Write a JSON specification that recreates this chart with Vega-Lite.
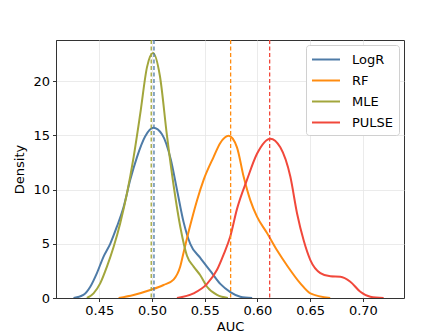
{
  "$schema": "https://vega.github.io/schema/vega-lite/v6.json",
  "width": 348,
  "height": 258,
  "autosize": {"type": "none"},
  "padding": {"left": 56, "top": 40, "right": 44, "bottom": 38},
  "background": "white",
  "config": {
    "font": "DejaVu Sans",
    "view": {"stroke": "#333333", "strokeWidth": 1},
    "axis": {
      "labelFont": "DejaVu Sans",
      "titleFont": "DejaVu Sans",
      "labelFontSize": 13,
      "titleFontSize": 13,
      "titleFontWeight": "normal",
      "labelColor": "black",
      "titleColor": "black",
      "domainColor": "#333333",
      "tickColor": "#333333",
      "tickSize": 3.5,
      "gridColor": "#e6e6e6",
      "gridWidth": 0.8
    },
    "legend": {
      "labelFont": "DejaVu Sans",
      "labelFontSize": 13,
      "labelColor": "black"
    }
  },
  "datasets": {
    "curves": [
      {"m": "LogR", "x": 0.4256, "d": 0},
      {"m": "LogR", "x": 0.435, "d": 0.28},
      {"m": "LogR", "x": 0.4415, "d": 1.04},
      {"m": "LogR", "x": 0.4478, "d": 2.3},
      {"m": "LogR", "x": 0.454, "d": 3.8},
      {"m": "LogR", "x": 0.4604, "d": 5.0},
      {"m": "LogR", "x": 0.4668, "d": 6.6},
      {"m": "LogR", "x": 0.4731, "d": 8.4},
      {"m": "LogR", "x": 0.4794, "d": 10.9},
      {"m": "LogR", "x": 0.4858, "d": 13.0},
      {"m": "LogR", "x": 0.4935, "d": 14.9},
      {"m": "LogR", "x": 0.5015, "d": 15.7},
      {"m": "LogR", "x": 0.5095, "d": 15.1},
      {"m": "LogR", "x": 0.5178, "d": 12.8},
      {"m": "LogR", "x": 0.5237, "d": 10.0},
      {"m": "LogR", "x": 0.53, "d": 7.0},
      {"m": "LogR", "x": 0.5363, "d": 5.0},
      {"m": "LogR", "x": 0.5458, "d": 3.7},
      {"m": "LogR", "x": 0.5553, "d": 2.5},
      {"m": "LogR", "x": 0.5648, "d": 1.3},
      {"m": "LogR", "x": 0.5743, "d": 0.55},
      {"m": "LogR", "x": 0.5838, "d": 0.12},
      {"m": "LogR", "x": 0.595, "d": 0},
      {"m": "RF", "x": 0.4684, "d": 0},
      {"m": "RF", "x": 0.4826, "d": 0.28},
      {"m": "RF", "x": 0.4984, "d": 0.74},
      {"m": "RF", "x": 0.511, "d": 1.2},
      {"m": "RF", "x": 0.5205, "d": 1.7},
      {"m": "RF", "x": 0.5268, "d": 2.9},
      {"m": "RF", "x": 0.53, "d": 4.2},
      {"m": "RF", "x": 0.5363, "d": 6.7},
      {"m": "RF", "x": 0.5427, "d": 9.0},
      {"m": "RF", "x": 0.549, "d": 10.9},
      {"m": "RF", "x": 0.5584, "d": 13.0},
      {"m": "RF", "x": 0.5648, "d": 14.3},
      {"m": "RF", "x": 0.5727, "d": 14.96},
      {"m": "RF", "x": 0.5806, "d": 13.9},
      {"m": "RF", "x": 0.5869, "d": 11.2},
      {"m": "RF", "x": 0.5933, "d": 9.0},
      {"m": "RF", "x": 0.5996, "d": 7.5},
      {"m": "RF", "x": 0.6091, "d": 6.0},
      {"m": "RF", "x": 0.6186, "d": 4.4},
      {"m": "RF", "x": 0.6281, "d": 3.0},
      {"m": "RF", "x": 0.6407, "d": 1.35},
      {"m": "RF", "x": 0.6502, "d": 0.43},
      {"m": "RF", "x": 0.669, "d": 0},
      {"m": "MLE", "x": 0.4383, "d": 0},
      {"m": "MLE", "x": 0.4446, "d": 0.43},
      {"m": "MLE", "x": 0.4509, "d": 1.35},
      {"m": "MLE", "x": 0.4573, "d": 2.9},
      {"m": "MLE", "x": 0.4636, "d": 4.7},
      {"m": "MLE", "x": 0.4699, "d": 6.9},
      {"m": "MLE", "x": 0.4763, "d": 9.65},
      {"m": "MLE", "x": 0.4826, "d": 13.0},
      {"m": "MLE", "x": 0.4889, "d": 17.0},
      {"m": "MLE", "x": 0.4953, "d": 21.3},
      {"m": "MLE", "x": 0.501, "d": 22.6},
      {"m": "MLE", "x": 0.5075, "d": 20.5},
      {"m": "MLE", "x": 0.5142, "d": 15.0},
      {"m": "MLE", "x": 0.5205, "d": 10.4},
      {"m": "MLE", "x": 0.5268, "d": 6.6},
      {"m": "MLE", "x": 0.5332, "d": 3.9},
      {"m": "MLE", "x": 0.5395, "d": 2.9},
      {"m": "MLE", "x": 0.5458, "d": 2.1},
      {"m": "MLE", "x": 0.5522, "d": 1.04},
      {"m": "MLE", "x": 0.5617, "d": 0.28},
      {"m": "MLE", "x": 0.572, "d": 0},
      {"m": "PULSE", "x": 0.5237, "d": 0},
      {"m": "PULSE", "x": 0.5395, "d": 0.43},
      {"m": "PULSE", "x": 0.5522, "d": 1.3},
      {"m": "PULSE", "x": 0.5617, "d": 2.6},
      {"m": "PULSE", "x": 0.5679, "d": 4.0},
      {"m": "PULSE", "x": 0.5743, "d": 5.7},
      {"m": "PULSE", "x": 0.5806, "d": 8.2},
      {"m": "PULSE", "x": 0.5901, "d": 10.9},
      {"m": "PULSE", "x": 0.5996, "d": 13.3},
      {"m": "PULSE", "x": 0.6122, "d": 14.7},
      {"m": "PULSE", "x": 0.6217, "d": 13.9},
      {"m": "PULSE", "x": 0.6312, "d": 11.2},
      {"m": "PULSE", "x": 0.6376, "d": 7.8},
      {"m": "PULSE", "x": 0.6439, "d": 5.3},
      {"m": "PULSE", "x": 0.6502, "d": 3.5},
      {"m": "PULSE", "x": 0.6597, "d": 2.3},
      {"m": "PULSE", "x": 0.6692, "d": 2.0},
      {"m": "PULSE", "x": 0.6787, "d": 1.96},
      {"m": "PULSE", "x": 0.6881, "d": 1.5},
      {"m": "PULSE", "x": 0.6976, "d": 0.58},
      {"m": "PULSE", "x": 0.7071, "d": 0.12},
      {"m": "PULSE", "x": 0.7197, "d": 0}
    ],
    "means": [
      {"m": "MLE", "x": 0.4993},
      {"m": "LogR", "x": 0.5019},
      {"m": "RF", "x": 0.5746},
      {"m": "PULSE", "x": 0.6116}
    ]
  },
  "layer": [
    {
      "data": {"name": "curves"},
      "mark": {"type": "line", "interpolate": "monotone", "strokeWidth": 2, "clip": true},
      "encoding": {
        "x": {
          "field": "x", "type": "quantitative",
          "scale": {"domain": [0.409, 0.739], "nice": false, "zero": false},
          "axis": {"values": [0.45, 0.5, 0.55, 0.6, 0.65, 0.7], "format": ".2f", "title": "AUC", "labelPadding": 3, "titlePadding": 3}
        },
        "y": {
          "field": "d", "type": "quantitative",
          "scale": {"domain": [0, 23.8], "nice": false},
          "axis": {"values": [0, 5, 10, 15, 20], "title": "Density", "labelPadding": 3, "titlePadding": 6}
        },
        "color": {
          "field": "m", "type": "nominal",
          "scale": {"domain": ["LogR", "RF", "MLE", "PULSE"], "range": ["#4e7ba7", "#ff8c10", "#a2a63c", "#f1483b"]},
          "legend": {
            "title": null,
            "orient": "top-right",
            "offset": 5,
            "padding": 5,
            "fillColor": "white",
            "strokeColor": "#d0d0d0",
            "cornerRadius": 3,
            "symbolType": "M-1.65,0H1.65",
            "symbolSize": 289,
            "symbolStrokeWidth": 2,
            "symbolOffset": 5.5,
            "labelOffset": 16.5,
            "rowPadding": 4
          }
        },
        "order": {"field": "x", "type": "quantitative"}
      }
    },
    {
      "data": {"name": "means"},
      "mark": {"type": "rule", "strokeDash": [4, 2.5], "strokeWidth": 1.3},
      "encoding": {
        "x": {"field": "x", "type": "quantitative"},
        "color": {"field": "m", "type": "nominal", "legend": null}
      }
    }
  ]
}
